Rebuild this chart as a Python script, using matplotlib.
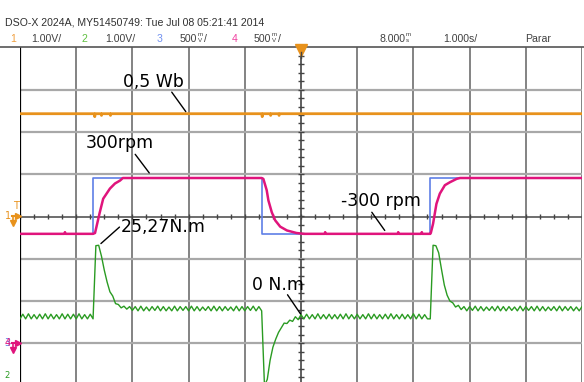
import numpy as np
import matplotlib.pyplot as plt
from matplotlib import font_manager

# scope screen data: x in seconds (1 s/div), y in screen divisions
orange_t = [0.00, 1.32, 1.33, 1.34, 1.44, 1.45, 1.46, 1.60, 1.61, 1.62,
            4.30, 4.31, 4.32, 4.45, 4.46, 4.47, 4.60, 4.61, 4.62, 10.00]
orange_y = [2.43, 2.43, 2.36, 2.43, 2.43, 2.39, 2.43, 2.43, 2.39, 2.43,
            2.43, 2.36, 2.43, 2.43, 2.39, 2.43, 2.43, 2.39, 2.43, 2.43]

blue_t = [0.00, 1.30, 4.30, 7.30, 10.00]
blue_y = [-0.41, 0.91, -0.41, 0.91, 0.91]

mag_t = [0.00, 0.79, 0.80, 0.81, 1.30, 1.335, 1.42, 1.48, 1.54, 1.60, 1.69,
         1.78, 1.83, 4.30, 4.33, 4.39, 4.42, 4.48, 4.54, 4.63, 4.75, 4.92,
         5.05, 5.42, 5.43, 5.44, 6.72, 6.73, 6.74, 7.14, 7.15, 7.16, 7.30,
         7.31, 7.35, 7.41, 7.47, 7.56, 7.65, 7.77, 7.83, 10.00]
mag_y = [-0.41, -0.41, -0.37, -0.41, -0.41, -0.39, 0.10, 0.42, 0.54, 0.66, 0.78,
         0.85, 0.91, 0.91, 0.89, 0.62, 0.38, 0.10, -0.09, -0.24, -0.33, -0.39,
         -0.41, -0.41, -0.37, -0.41, -0.41, -0.37, -0.41, -0.41, -0.37, -0.41, -0.41,
         -0.39, -0.17, 0.30, 0.54, 0.74, 0.81, 0.89, 0.91, 0.91]

green_dt = 0.05  # sample spacing, s
green_y = [
    -2.42, -2.31, -2.42, -2.30, -2.42, -2.32, -2.42, -2.31, -2.42, -2.30,
    -2.42, -2.31, -2.42, -2.32, -2.42, -2.30, -2.42, -2.31, -2.42, -2.31,
    -2.42, -2.30, -2.42, -2.32, -2.42, -2.31, -2.42, -0.69, -0.68, -0.94,
    -1.27, -1.55, -1.78, -1.88, -2.06, -2.08, -2.16, -2.12, -2.19, -2.13,
    -2.22, -2.13, -2.23, -2.12, -2.23, -2.14, -2.23, -2.13, -2.22, -2.12,
    -2.23, -2.13, -2.23, -2.14, -2.23, -2.12, -2.23, -2.13, -2.22, -2.13,
    -2.23, -2.12, -2.23, -2.13, -2.23, -2.14, -2.22, -2.13, -2.23, -2.12,
    -2.23, -2.13, -2.23, -2.13, -2.22, -2.14, -2.23, -2.12, -2.23, -2.13,
    -2.23, -2.13, -2.22, -2.12, -2.23, -2.13, -2.23, -4.00, -3.85, -3.40,
    -3.09, -2.90, -2.74, -2.63, -2.52, -2.53, -2.45, -2.48, -2.37, -2.44,
    -2.32, -2.42, -2.31, -2.42, -2.32, -2.42, -2.30, -2.42, -2.32, -2.42,
    -2.31, -2.42, -2.32, -2.42, -2.31, -2.42, -2.30, -2.42, -2.32, -2.42,
    -2.31, -2.42, -2.32, -2.42, -2.30, -2.42, -2.31, -2.42, -2.32, -2.42,
    -2.31, -2.42, -2.30, -2.42, -2.32, -2.42, -2.31, -2.42, -2.32, -2.42,
    -2.30, -2.42, -2.31, -2.42, -2.32, -2.42, -2.42, -0.68, -0.69, -0.86,
    -1.25, -1.62, -1.86, -2.00, -2.04, -2.14, -2.10, -2.20, -2.13, -2.23,
    -2.13, -2.22, -2.12, -2.23, -2.13, -2.23, -2.14, -2.22, -2.13, -2.23,
    -2.12, -2.23, -2.13, -2.23, -2.13, -2.22, -2.14, -2.23, -2.12, -2.23,
    -2.13, -2.22, -2.13, -2.23, -2.12, -2.23, -2.13, -2.23, -2.14, -2.22,
    -2.13, -2.23, -2.12, -2.23, -2.13, -2.22, -2.13, -2.23, -2.14, -2.23,
    -2.13,
]

labels = ['0,5 Wb', '300rpm', '25,27N.m', '-300 rpm', '0 N.m']
label_xy = [(1.83, 3.06), (1.17, 1.63), (1.79, -0.37), (5.71, 0.24), (4.12, -1.73)]
lead_from = [(2.70, 2.94), (2.05, 1.47), (1.77, -0.25), (6.26, 0.10), (4.76, -1.85)]
lead_to = [(2.95, 2.48), (2.30, 1.03), (1.44, -0.64), (6.49, -0.33), (4.99, -2.30)]

C_OR = '#e8921c'
C_GR = '#2a9b22'
C_BL = '#5f7fe6'
C_MG = '#e0147c'

try:
    font_manager.findfont('Liberation Sans Narrow', fallback_to_default=False)
    hdr_font, hdr_size = 'Liberation Sans Narrow', 9
except ValueError:
    hdr_font, hdr_size = 'Liberation Sans', 7.6

W, H = 584, 382
fig = plt.figure(figsize=(W / 100, H / 100), dpi=100)

# graticule: 10 x 8 div, bottom row cut off by the screenshot
top_px, bot_px, left_px, right_px = 47.3, 385.7, 20, 582
ax = fig.add_axes([left_px / W, 1 - bot_px / H, (right_px - left_px) / W, (bot_px - top_px) / H])
ax.set_xlim(0, 10)
ax.set_ylim(-4, 4)
ax.set_xticks([])
ax.set_yticks([])
for s in ax.spines.values():
    s.set_visible(False)

for x in range(1, 11):
    ax.axvline(x, color='#444444' if x == 5 else '#6e6e6e', lw=1.2, zorder=1)
for y in range(-3, 4):
    if y == 0:
        ax.axhline(y, color='#555555', lw=1.2, zorder=1)
    else:
        ax.axhline(y, color='#a8a8a8', lw=1.6, zorder=1)
ax.axvline(0, color='black', lw=1.6, zorder=2)
ax.vlines(np.arange(0, 10.01, 0.25), -0.06, 0.06, color='#444444', lw=1, zorder=1)
ax.hlines(np.arange(-4, 4.01, 0.2), 4.95, 5.05, color='#444444', lw=1, zorder=1)

ax.plot(orange_t, orange_y, color=C_OR, lw=2.0, zorder=3)
ax.step(blue_t, blue_y, where='post', color=C_BL, lw=1.2, zorder=3)
ax.plot(mag_t, mag_y, color=C_MG, lw=1.8, zorder=4)
ax.plot(np.arange(len(green_y)) * green_dt, green_y, color=C_GR, lw=1.0, zorder=4)

for lab, xy, a, b in zip(labels, label_xy, lead_from, lead_to):
    ax.text(xy[0], xy[1], lab, fontsize=12.4, family='DejaVu Sans', ha='left', va='baseline', zorder=6)
    ax.annotate('', xy=b, xytext=a,
                arrowprops=dict(arrowstyle='-', color='black', lw=1, shrinkA=0, shrinkB=0), zorder=6)

# overlay in pixel coordinates for header and side markers
ov = fig.add_axes([0, 0, 1, 1], zorder=5)
ov.set_xlim(0, W)
ov.set_ylim(H, 0)
ov.axis('off')
ov.patch.set_alpha(0)

ov.plot([0, W], [top_px, top_px], color='#555555', lw=1.2)
ov.plot([301], [49.5], marker='v', color=C_OR, ms=8)
ov.plot([301, 301], [52, 58], color='#444444', lw=1)

txt = dict(family=hdr_font, fontsize=hdr_size, va='baseline', ha='left')
ov.text(5, 25.5, 'DSO-X 2024A, MY51450749: Tue Jul 08 05:21:41 2014', color='#303030', **txt)
row2 = [('1', 10, '#f0a040'), ('1.00V/', 31, '#404040'), ('2', 82, '#60c040'),
        ('1.00V/', 105, '#404040'), ('3', 157, '#7090f0'), ('500', 180, '#404040'),
        ('/', 204, '#404040'), ('4', 232, '#f040a0'), ('500', 254, '#404040'),
        ('/', 278, '#404040'), ('8.000', 379, '#404040'), ('1.000s/', 443, '#404040'),
        ('Parar', 525, '#404040')]
for s, x, c in row2:
    ov.text(x, 41.5, s, color=c, **txt)
for x, lo in [(198, 'V'), (272, 'V'), (406, 's')]:
    ov.text(x, 36.5, 'm', color='#404040', family=hdr_font, fontsize=4.5, va='baseline')
    ov.text(x, 41.5, lo, color='#404040', family=hdr_font, fontsize=4.5, va='baseline')

# channel ground markers on the left edge
def marker(y, lab, col, lab2=None, col2=None):
    if lab2:
        ov.text(7, y, lab2, color=col2, fontsize=7, ha='center', va='center')
    ov.text(8, y, lab, color=col, fontsize=7, ha='center', va='center')
    ov.plot([12, 18], [y, y], color=col, lw=1.5)
    ov.plot([18], [y], marker='>', color=col, ms=5)
    ov.plot([12.5, 12.5], [y, y + 5], color=col, lw=1.2)
    ov.plot([12.5], [y + 7], marker='v', color=col, ms=4)

marker(216, '1', C_OR)
ov.text(15.5, 206, 'T', color=C_OR, fontsize=7, ha='center', va='center')
marker(343.3, '4', C_MG, '3', C_BL)
ov.text(7, 376, '2', color=C_GR, fontsize=6, ha='center', va='center')

fig.savefig('out.png', dpi=100)
